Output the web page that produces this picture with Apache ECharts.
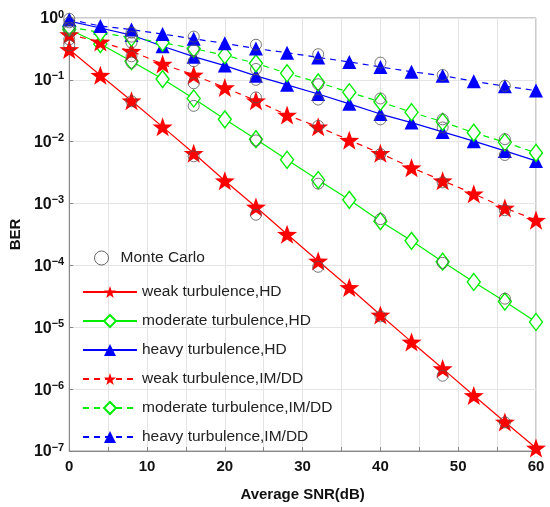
<!DOCTYPE html>
<html>
<head>
<meta charset="utf-8">
<script src="https://cdn.jsdelivr.net/npm/echarts@6/dist/echarts.min.js"></script>
<style>
    html, body {margin: 0; padding: 0; background: #fff;}
    #chart {width: 550px; height: 507px;}
</style>
</head>
<body>
<div id="chart"></div>
<script>
// SNR points (dB)
const snr = [0, 4, 8, 12, 16, 20, 24, 28, 32, 36, 40, 44, 48, 52, 56, 60];
const mcSnr = [0, 8, 16, 24, 32, 40, 48, 56];

// analytical curves
const weakHD = [0.31, 0.119, 0.046, 0.0174, 0.0065, 0.00234, 8.8e-4, 3.2e-4, 1.18e-4, 4.4e-5, 1.58e-5, 5.8e-6, 2.15e-6, 7.9e-7, 2.95e-7, 1.12e-7];
const moderateHD = [0.65, 0.38, 0.2, 0.103, 0.05, 0.023, 0.011, 0.0051, 0.0024, 0.00115, 5.2e-4, 2.5e-4, 1.15e-4, 5.4e-5, 2.6e-5, 1.22e-5];
const heavyHD = [0.89, 0.69, 0.53, 0.35, 0.237, 0.17, 0.116, 0.083, 0.059, 0.041, 0.028, 0.0204, 0.0144, 0.0102, 0.0071, 0.0049];
const weakIM = [0.54, 0.41, 0.29, 0.18, 0.12, 0.075, 0.046, 0.027, 0.0174, 0.0106, 0.0065, 0.0038, 0.00234, 0.00144, 8.5e-4, 5.4e-4];
const moderateIM = [0.72, 0.58, 0.48, 0.4, 0.32, 0.25, 0.185, 0.128, 0.091, 0.063, 0.044, 0.030, 0.021, 0.014, 0.0098, 0.0066];
const heavyIM = [0.95, 0.74, 0.65, 0.55, 0.46, 0.39, 0.32, 0.275, 0.23, 0.195, 0.162, 0.135, 0.117, 0.095, 0.079, 0.067];

// Monte Carlo samples
const mcWeakHD = [0.36, 0.045, 0.0058, 6.6e-4, 9.5e-5, 1.5e-5, 1.65e-6, 2.9e-7];
const mcModerateHD = [0.62, 0.19, 0.038, 0.0105, 0.0021, 5.6e-4, 1.1e-4, 2.9e-5];
const mcHeavyHD = [0.85, 0.4, 0.2, 0.1, 0.048, 0.023, 0.017, 0.0061];
const mcWeakIM = [0.45, 0.24, 0.088, 0.052, 0.018, 0.0063, 0.0022, 7.8e-4];
const mcModerateIM = [0.7, 0.5, 0.3, 0.15, 0.085, 0.05, 0.023, 0.011];
const mcHeavyIM = [0.97, 0.58, 0.5, 0.37, 0.26, 0.19, 0.12, 0.08];

const xTicks = [0, 10, 20, 30, 40, 50, 60];

const names = [
    'weak turbulence,HD',
    'moderate turbulence,HD',
    'heavy turbulence,HD',
    'weak turbulence,IM/DD',
    'moderate turbulence,IM/DD',
    'heavy turbulence,IM/DD'
];

const STAR = 'path://M50 0 L61.76 33.82 L97.55 34.55 L69.02 56.18 L79.39 90.45 L50 70 L20.61 90.45 L30.98 56.18 L2.45 34.55 L38.24 33.82 Z';

function pairs(xs, ys) {
    return xs.map((x, i) => [x, ys[i]]);
}

function lineSeries(name, ys, color, dashed, symbol, size, hollow) {
    return {
        name: name,
        type: 'line',
        data: pairs(snr, ys),
        symbol: symbol,
        symbolSize: size,
        symbolKeepAspect: true,
        showAllSymbol: true,
        lineStyle: {color: color, width: 1.2, type: dashed ? [6, 5] : 'solid'},
        itemStyle: {
            color: hollow ? '#fff' : color,
            borderColor: color,
            borderWidth: hollow ? 1.4 : 0
        },
        emphasis: {disabled: true},
        z: 3
    };
}

const mcData = [];
[mcWeakHD, mcModerateHD, mcHeavyHD, mcWeakIM, mcModerateIM, mcHeavyIM].forEach(arr => {
    mcData.push(...pairs(mcSnr, arr));
});

const series = [
    lineSeries(names[0], weakHD, '#ff0000', false, STAR, 20, false),
    lineSeries(names[1], moderateHD, '#00ee00', false, 'diamond', [13, 17], true),
    lineSeries(names[2], heavyHD, '#0000ff', false, 'triangle', 14, false),
    lineSeries(names[3], weakIM, '#ff0000', true, STAR, 20, false),
    lineSeries(names[4], moderateIM, '#00ee00', true, 'diamond', [13, 17], true),
    lineSeries(names[5], heavyIM, '#0000ff', true, 'triangle', 14, false),
    {
        name: 'Monte Carlo',
        type: 'scatter',
        data: mcData,
        symbol: 'circle',
        symbolSize: 11,
        itemStyle: {color: 'rgba(0,0,0,0)', borderColor: '#555', borderWidth: 1},
        emphasis: {disabled: true},
        z: 4
    }
];

const chart = echarts.init(document.getElementById('chart'));

const option = {
    animation: false,
    backgroundColor: '#fff',
    textStyle: {fontFamily: 'Liberation Sans, Arial, sans-serif'},
    grid: {
        left: 64, right: 14, top: 18, bottom: 52,
        show: true, borderColor: '#999', borderWidth: 1
    },
    legend: [
        {
            data: [{name: 'Monte Carlo', icon: 'circle', itemStyle: {color: 'rgba(0,0,0,0)', borderColor: '#444', borderWidth: 1}}],
            left: 89, top: 245,
            itemWidth: 28, itemHeight: 14,
            textStyle: {fontSize: 15.5, color: '#222'}
        },
        {
            data: names,
            orient: 'vertical',
            left: 77, top: 279,
            itemWidth: 54, itemHeight: 15, itemGap: 13,
            textStyle: {fontSize: 15.5, color: '#222'}
        }
    ],
    xAxis: {
        type: 'value',
        min: 0, max: 60, interval: 5,
        name: 'Average SNR(dB)',
        nameLocation: 'middle',
        nameGap: 36,
        nameTextStyle: {fontSize: 15, fontWeight: 'bold', color: '#111'},
        axisLine: {lineStyle: {color: '#888'}},
        axisTick: {inside: true, length: 4, lineStyle: {color: '#888'}},
        axisLabel: {
            fontSize: 15, fontWeight: 'bold', color: '#111', margin: 8,
            formatter: v => xTicks.includes(v) ? String(v) : ''
        },
        splitLine: {show: true, lineStyle: {color: '#e4e4e4'}}
    },
    yAxis: {
        type: 'log',
        logBase: 10,
        min: 1e-7, max: 1,
        name: 'BER',
        nameLocation: 'middle',
        nameGap: 43,
        nameRotate: 90,
        nameTextStyle: {fontSize: 15, fontWeight: 'bold', color: '#111'},
        axisLine: {lineStyle: {color: '#888'}},
        axisTick: {inside: true, length: 4, lineStyle: {color: '#888'}},
        axisLabel: {
            margin: 5,
            formatter: v => {
                const e = Math.round(Math.log10(v));
                return '{b|10}{s|' + (e < 0 ? '\u2212' + (-e) : e) + '}';
            },
            rich: {
                b: {fontSize: 16, fontWeight: 'bold', color: '#111', verticalAlign: 'bottom', lineHeight: 18},
                s: {fontSize: 11, fontWeight: 'bold', color: '#111', verticalAlign: 'top', lineHeight: 18}
            }
        },
        splitLine: {show: true, lineStyle: {color: '#e4e4e4'}}
    },
    series: series
};

option && chart.setOption(option);
</script>
</body>
</html>
